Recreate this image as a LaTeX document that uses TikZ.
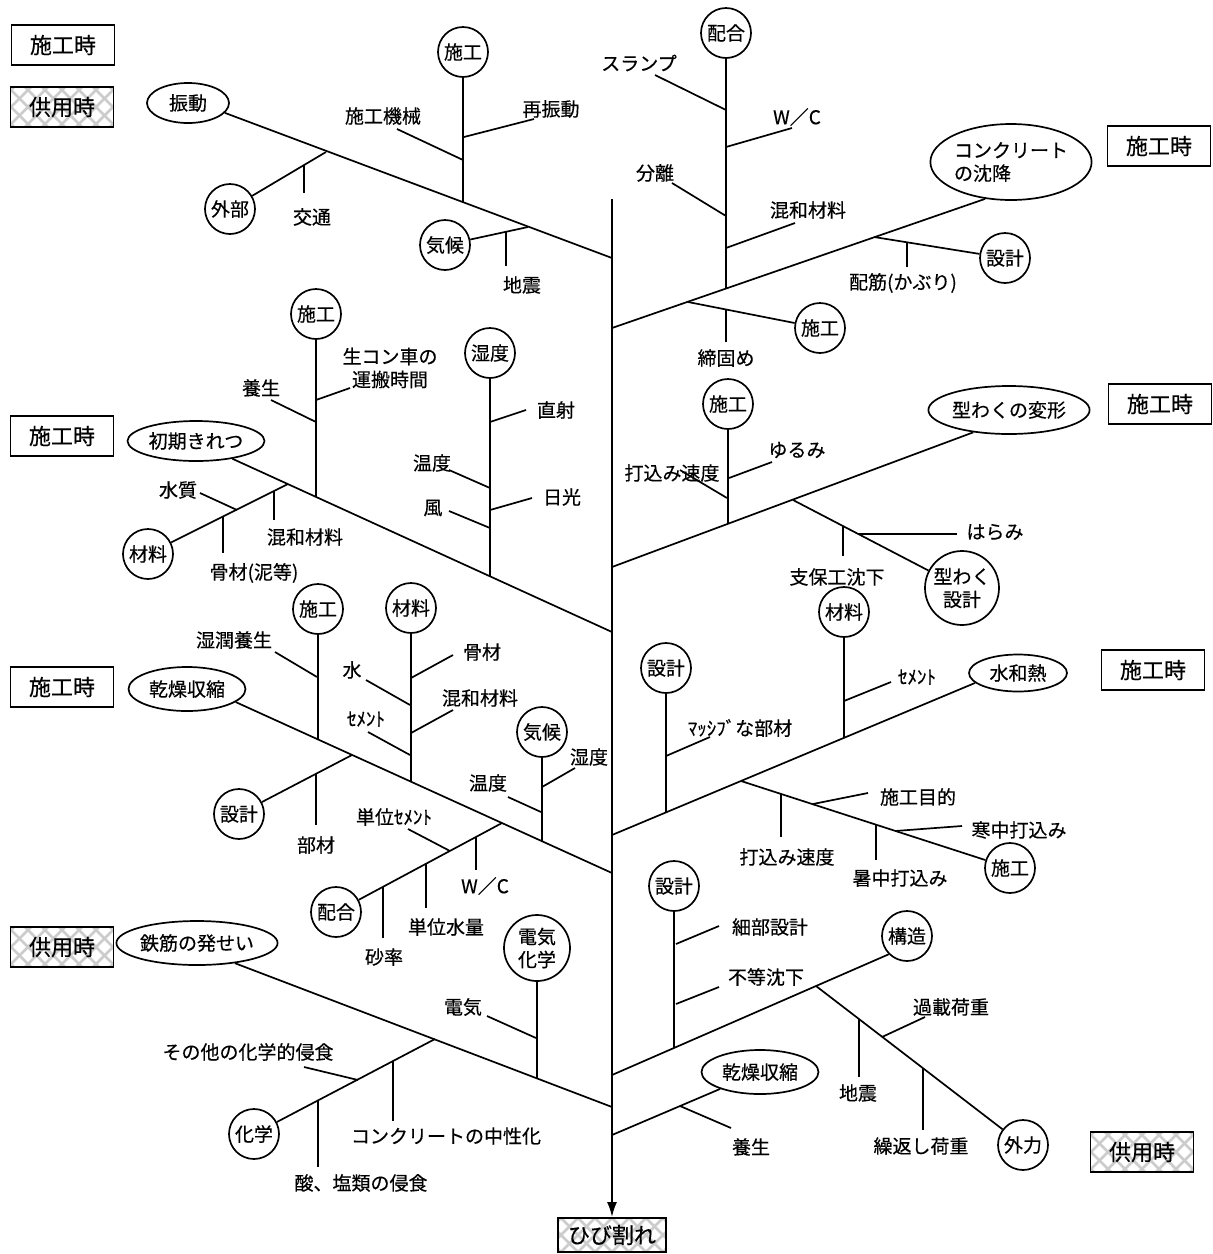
\documentclass[tikz,border=0pt]{standalone}
\usepackage{fontspec}
\setmainfont{Noto Sans CJK JP}[FakeBold=0.4]
\usetikzlibrary{arrows.meta, shapes.geometric}
\newcommand{\lblfont}{\fontsize{19pt}{23pt}\selectfont}
\newcommand{\boxfont}{\fontsize{22pt}{26pt}\selectfont}
\tikzset{hatch/.style={path picture={
  \foreach \k in {-7,...,7}{
    \draw[gray!40, line width=2.6pt] ([xshift=\k*17pt-40pt, yshift=-40pt]path picture bounding box.center) -- ++(80pt,80pt);
    \draw[gray!40, line width=2.6pt] ([xshift=\k*17pt-40pt, yshift=40pt]path picture bounding box.center) -- ++(80pt,-80pt);
  }}}}

\begin{document}
\begin{tikzpicture}[x=1pt, y=-1pt, line width=1.7pt,
    maru/.style={draw, circle, minimum size=50pt, inner sep=0pt, font=\lblfont},
    daen/.style={draw, ellipse, inner sep=0pt, font=\lblfont},
    lbl/.style={inner sep=1pt, font=\lblfont},
    jiki/.style={draw, minimum width=103pt, minimum height=40pt, inner sep=0pt, font=\boxfont},
    kyoyo/.style={jiki, hatch},
    >={Latex[length=15pt, width=10pt]}]
  \useasboundingbox (0,0) rectangle (1213,1254);

  % phase boxes
  \node[jiki] (bx1) at (63,45) {施工時};
  \node[kyoyo] (bx2) at (62,107) {供用時};
  \node[jiki] (bx3) at (62,436) {施工時};
  \node[jiki] (bx4) at (62,687) {施工時};
  \node[kyoyo] (bx5) at (62,947) {供用時};
  \node[jiki] (bx6) at (1159,146) {施工時};
  \node[jiki] (bx7) at (1160,404) {施工時};
  \node[jiki] (bx8) at (1153,670) {施工時};
  \node[kyoyo] (bx9) at (1142,1152) {供用時};

  % spine
  \coordinate (top) at (612,199);
  \node[kyoyo, minimum width=108pt, minimum height=34pt] (hibi) at (612,1235) {ひび割れ};
  \draw[->, line width=2.2pt] (top) -- (hibi.north);
  \coordinate (s1) at (612,258); \coordinate (s2) at (612,328);
  \coordinate (s3) at (612,632); \coordinate (s4) at (612,567);
  \coordinate (s5) at (612,835); \coordinate (s6) at (612,873);
  \coordinate (s7) at (612,1107); \coordinate (s8) at (612,1075);
  \coordinate (s9) at (612,1135);

  % 振動
  \node[daen, minimum width=82pt, minimum height=40pt] (shindo) at (188,103) {振動};
  \draw (shindo.-15) -- (s1);
  \node[maru] (seko1) at (463,52) {施工};
  \coordinate (j1a) at (463,203);
  \draw (seko1) -- (j1a);
  \node[lbl] (lkikai) at (383,116) {施工機械};
  \coordinate (e1a) at (397,129); \coordinate (j1b) at (463,160);
  \draw (e1a) -- (j1b);
  \node[lbl] (lsaishin) at (551,109) {再振動};
  \coordinate (j1c) at (464,137); \coordinate (e1c) at (534,119);
  \draw (j1c) -- (e1c);
  \node[maru] (gaibu) at (230,209) {外部};
  \coordinate (j1d) at (326,152);
  \draw (gaibu) -- (j1d);
  \coordinate (j1e) at (304,165); \coordinate (e1e) at (304,193);
  \draw (j1e) -- (e1e);
  \node[lbl] (lkotsu) at (312,217) {交通};
  \node[maru] (kiko1) at (445,245) {気候};
  \coordinate (j1f) at (528,227);
  \draw (kiko1) -- (j1f);
  \coordinate (j1g) at (506,232); \coordinate (e1g) at (506,266);
  \draw (j1g) -- (e1g);
  \node[lbl] (ljishin1) at (522,285) {地震};

  % コンクリートの沈降
  \node[daen, minimum width=150pt, minimum height=76pt, align=left] (chinko) at (1011,162) {コンクリート\\の沈降};
  \draw (s2) -- (chinko.-125);
  \node[maru] (haigo2) at (726,33) {配合};
  \coordinate (j2a) at (726,288);
  \draw (haigo2) -- (j2a);
  \node[lbl] (lslump) at (639,63) {スランプ};
  \coordinate (e2b) at (655,75); \coordinate (j2b) at (726,110);
  \draw (e2b) -- (j2b);
  \node[lbl] (lwc2) at (797,117) {W／C};
  \coordinate (j2c) at (726,147); \coordinate (e2c) at (792,128);
  \draw (j2c) -- (e2c);
  \node[lbl] (lbunri) at (655,173) {分離};
  \coordinate (e2d) at (672,183); \coordinate (j2d) at (726,216);
  \draw (e2d) -- (j2d);
  \node[lbl] (lkonwa2) at (808,210) {混和材料};
  \coordinate (j2e) at (726,248); \coordinate (e2e) at (795,223);
  \draw (j2e) -- (e2e);
  \node[maru] (sekkei2) at (1005,258) {設計};
  \coordinate (j2f) at (874,237);
  \draw (j2f) -- (sekkei2);
  \coordinate (j2g) at (907,242); \coordinate (e2g) at (907,267);
  \draw (j2g) -- (e2g);
  \node[lbl] (lhaikin) at (903,283) {配筋(かぶり)};
  \node[maru] (seko2) at (820,328) {施工};
  \coordinate (j2h) at (688,302);
  \draw (j2h) -- (seko2);
  \coordinate (j2i) at (726,310); \coordinate (e2i) at (726,342);
  \draw (j2i) -- (e2i);
  \node[lbl] (lshime) at (726,358) {締固め};

  % 初期きれつ
  \node[daen, minimum width=137pt, minimum height=40pt] (shoki) at (196,441) {初期きれつ};
  \draw (shoki.-26) -- (s3);
  \node[maru] (seko3) at (316,314) {施工};
  \coordinate (j3a) at (316,497);
  \draw (seko3) -- (j3a);
  \node[lbl] (lyojo3) at (261,388) {養生};
  \coordinate (e3b) at (271,400); \coordinate (j3b) at (316,422);
  \draw (e3b) -- (j3b);
  \node[lbl, align=center] (lnamacon) at (390,368) {生コン車の\\運搬時間};
  \coordinate (j3c) at (316,400); \coordinate (e3c) at (350,388);
  \draw (j3c) -- (e3c);
  \node[maru] (zairyo3) at (148,554) {材料};
  \coordinate (j3d) at (288,484);
  \draw (zairyo3) -- (j3d);
  \node[lbl] (lsuishitsu) at (178,490) {水質};
  \coordinate (e3e) at (200,493); \coordinate (j3e) at (237,510);
  \draw (e3e) -- (j3e);
  \coordinate (j3f) at (274,491); \coordinate (e3f) at (274,520);
  \draw (j3f) -- (e3f);
  \node[lbl] (lkonwa3) at (305,537) {混和材料};
  \coordinate (j3g) at (223,517); \coordinate (e3g) at (223,553);
  \draw (j3g) -- (e3g);
  \node[lbl] (lkotsu3) at (254,573) {骨材(泥等)};
  \node[maru] (shitsudo3) at (490,353) {湿度};
  \coordinate (j3h) at (490,576);
  \draw (shitsudo3) -- (j3h);
  \node[lbl] (lchokusha) at (556,410) {直射};
  \coordinate (j3i) at (490,422); \coordinate (e3i) at (526,410);
  \draw (j3i) -- (e3i);
  \node[lbl] (londo3) at (432,463) {温度};
  \coordinate (e3j) at (449,470); \coordinate (j3j) at (490,488);
  \draw (e3j) -- (j3j);
  \node[lbl] (lnikko) at (562,497) {日光};
  \coordinate (j3k) at (490,510); \coordinate (e3k) at (532,498);
  \draw (j3k) -- (e3k);
  \node[lbl] (lkaze) at (433,508) {風};
  \coordinate (e3l) at (449,511); \coordinate (j3l) at (490,528);
  \draw (e3l) -- (j3l);

  % 型わくの変形
  \node[daen, minimum width=161pt, minimum height=48pt] (henkei) at (1009,410) {型わくの変形};
  \draw (s4) -- (henkei.-148);
  \node[maru] (seko4) at (728,404) {施工};
  \coordinate (j4a) at (728,524);
  \draw (seko4) -- (j4a);
  \node[lbl] (luchikomi4) at (672,473) {打込み速度};
  \coordinate (e4b) at (680,470); \coordinate (j4b) at (727,498);
  \draw (e4b) -- (j4b);
  \node[lbl] (lyurumi) at (797,450) {ゆるみ};
  \coordinate (j4c) at (729,478); \coordinate (e4c) at (772,462);
  \draw (j4c) -- (e4c);
  \node[maru, minimum size=74pt, align=center] (katawaku) at (962,588) {型わく\\設計};
  \coordinate (j4d) at (793,500);
  \draw (j4d) -- (katawaku);
  \coordinate (j4e) at (843,526); \coordinate (e4e) at (843,556);
  \draw (j4e) -- (e4e);
  \node[lbl] (lshiho) at (837,577) {支保工沈下};
  \coordinate (j4f) at (858,534); \coordinate (e4f) at (957,534);
  \draw (j4f) -- (e4f);
  \node[lbl] (lharami) at (995,532) {はらみ};

  % 水和熱
  \node[daen, minimum width=98pt, minimum height=37pt] (suiwa) at (1018,673) {水和熱};
  \draw (s5) -- (suiwa.-167);
  \node[maru] (zairyo5) at (844,612) {材料};
  \coordinate (j5a) at (844,738);
  \draw (zairyo5) -- (j5a);
  \coordinate (j5b) at (844,701); \coordinate (e5b) at (891,682);
  \draw (j5b) -- (e5b);
  \node[lbl] (lcement5) at (917,677) {ｾﾒﾝﾄ};
  \node[maru] (sekkei5) at (666,668) {設計};
  \coordinate (j5c) at (666,812);
  \draw (sekkei5) -- (j5c);
  \coordinate (j5d) at (666,756); \coordinate (e5d) at (710,737);
  \draw (j5d) -- (e5d);
  \node[lbl] (lmassive) at (740,728) {ﾏｯｼﾌﾞな部材};
  \node[maru] (seko5) at (1010,868) {施工};
  \coordinate (j5e) at (741,781);
  \draw (j5e) -- (seko5);
  \coordinate (j5f) at (781,794); \coordinate (e5f) at (781,837);
  \draw (j5f) -- (e5f);
  \node[lbl] (luchikomi5) at (787,857) {打込み速度};
  \coordinate (j5g) at (813,804); \coordinate (e5g) at (868,793);
  \draw (j5g) -- (e5g);
  \node[lbl] (lmokuteki) at (918,797) {施工目的};
  \coordinate (j5h) at (876,825); \coordinate (e5h) at (876,860);
  \draw (j5h) -- (e5h);
  \node[lbl] (lshochu) at (900,878) {暑中打込み};
  \coordinate (j5i) at (895,831); \coordinate (e5i) at (962,826);
  \draw (j5i) -- (e5i);
  \node[lbl] (lkanchu) at (1019,830) {寒中打込み};

  % 乾燥収縮（施工時）
  \node[daen, minimum width=117pt, minimum height=44pt] (kanso) at (187,689) {乾燥収縮};
  \draw (kanso.-15) -- (s6);
  \node[maru] (seko6) at (318,609) {施工};
  \coordinate (j6a) at (318,740);
  \draw (seko6) -- (j6a);
  \node[lbl] (lshitsujun) at (234,640) {湿潤養生};
  \coordinate (e6b) at (275,652); \coordinate (j6b) at (317,677);
  \draw (e6b) -- (j6b);
  \node[maru] (zairyo6) at (411,608) {材料};
  \coordinate (j6c) at (411,782);
  \draw (zairyo6) -- (j6c);
  \node[lbl] (lkotsu6) at (482,652) {骨材};
  \coordinate (j6d) at (411,678); \coordinate (e6d) at (453,655);
  \draw (j6d) -- (e6d);
  \node[lbl] (lmizu) at (352,670) {水};
  \coordinate (e6e) at (366,680); \coordinate (j6e) at (410,705);
  \draw (e6e) -- (j6e);
  \node[lbl] (lkonwa6) at (480,698) {混和材料};
  \coordinate (j6f) at (411,733); \coordinate (e6f) at (453,710);
  \draw (j6f) -- (e6f);
  \node[lbl] (lcement6) at (366,719) {ｾﾒﾝﾄ};
  \coordinate (e6g) at (368,732); \coordinate (j6g) at (410,755);
  \draw (e6g) -- (j6g);
  \node[maru] (sekkei6) at (239,814) {設計};
  \coordinate (j6h) at (352,755);
  \draw (sekkei6) -- (j6h);
  \coordinate (j6i) at (316,774); \coordinate (e6i) at (316,825);
  \draw (j6i) -- (e6i);
  \node[lbl] (lbuzai) at (316,845) {部材};
  \node[maru] (kiko6) at (542,732) {気候};
  \coordinate (j6j) at (542,841);
  \draw (kiko6) -- (j6j);
  \node[lbl] (lshitsudo6) at (589,757) {湿度};
  \coordinate (j6k) at (542,787); \coordinate (e6k) at (575,768);
  \draw (j6k) -- (e6k);
  \node[lbl] (londo6) at (488,783) {温度};
  \coordinate (e6l) at (508,797); \coordinate (j6l) at (541,812);
  \draw (e6l) -- (j6l);
  \node[maru] (haigo6) at (336,912) {配合};
  \coordinate (j6m) at (502,823);
  \draw (j6m) -- (haigo6);
  \node[lbl] (ltani) at (394,817) {単位ｾﾒﾝﾄ};
  \coordinate (e6n) at (408,829); \coordinate (j6n) at (450,851);
  \draw (e6n) -- (j6n);
  \coordinate (j6o) at (476,837); \coordinate (e6o) at (476,870);
  \draw (j6o) -- (e6o);
  \node[lbl] (lwc6) at (485,886) {W／C};
  \coordinate (j6p) at (426,864); \coordinate (e6p) at (426,908);
  \draw (j6p) -- (e6p);
  \node[lbl] (lsuiryo) at (446,927) {単位水量};
  \coordinate (j6q) at (383,887); \coordinate (e6q) at (383,938);
  \draw (j6q) -- (e6q);
  \node[lbl] (lsaritsu) at (384,957) {砂率};

  % 鉄筋の発せい
  \node[daen, minimum width=140pt, minimum height=44pt] (hassei) at (197,943) {鉄筋の発せい};
  \draw (hassei.-28) -- (s7);
  \node[maru, minimum size=66pt, align=center] (denki) at (537,948) {電気\\化学};
  \coordinate (j7a) at (537,1078);
  \draw (denki) -- (j7a);
  \node[lbl] (ldenki) at (463,1007) {電気};
  \coordinate (e7b) at (487,1016); \coordinate (j7b) at (536,1038);
  \draw (e7b) -- (j7b);
  \node[maru] (kagaku) at (254,1134) {化学};
  \coordinate (j7c) at (435,1039);
  \draw (j7c) -- (kagaku);
  \node[lbl] (lsonota) at (248,1052) {その他の化学的侵食};
  \coordinate (e7d) at (304,1067); \coordinate (j7d) at (358,1080);
  \draw (e7d) -- (j7d);
  \coordinate (j7e) at (393,1061); \coordinate (e7e) at (393,1121);
  \draw (j7e) -- (e7e);
  \node[lbl] (lchusei) at (446,1136) {コンクリートの中性化};
  \coordinate (j7f) at (318,1100); \coordinate (e7f) at (318,1167);
  \draw (j7f) -- (e7f);
  \node[lbl] (lsan) at (361,1183) {酸、塩類の侵食};

  % 構造
  \node[maru] (kozo) at (907,936) {構造};
  \draw (s8) -- (kozo.-135);
  \node[maru] (sekkei8) at (674,886) {設計};
  \coordinate (j8a) at (674,1048);
  \draw (sekkei8) -- (j8a);
  \coordinate (j8b) at (676,944); \coordinate (e8b) at (719,926);
  \draw (j8b) -- (e8b);
  \node[lbl] (lsaibu) at (770,927) {細部設計};
  \coordinate (j8c) at (676,1004); \coordinate (e8c) at (719,987);
  \draw (j8c) -- (e8c);
  \node[lbl] (lfuto) at (766,977) {不等沈下};
  \node[maru] (gairyoku) at (1023,1145) {外力};
  \coordinate (j8d) at (816,986);
  \draw (j8d) -- (gairyoku);
  \coordinate (j8e) at (859,1019); \coordinate (e8e) at (859,1077);
  \draw (j8e) -- (e8e);
  \node[lbl] (ljishin8) at (858,1093) {地震};
  \coordinate (j8f) at (882,1037); \coordinate (e8f) at (925,1017);
  \draw (j8f) -- (e8f);
  \node[lbl] (lkasai) at (951,1007) {過載荷重};
  \coordinate (j8g) at (923,1068); \coordinate (e8g) at (923,1130);
  \draw (j8g) -- (e8g);
  \node[lbl] (lkurikaeshi) at (921,1146) {繰返し荷重};

  % 乾燥収縮（供用時）
  \node[daen, minimum width=117pt, minimum height=44pt] (kanso2) at (760,1072) {乾燥収縮};
  \draw (s9) -- (kanso2.-157);
  \coordinate (j9a) at (680,1106); \coordinate (e9a) at (731,1128);
  \draw (j9a) -- (e9a);
  \node[lbl] (lyojo9) at (751,1147) {養生};
\end{tikzpicture}
\end{document}
